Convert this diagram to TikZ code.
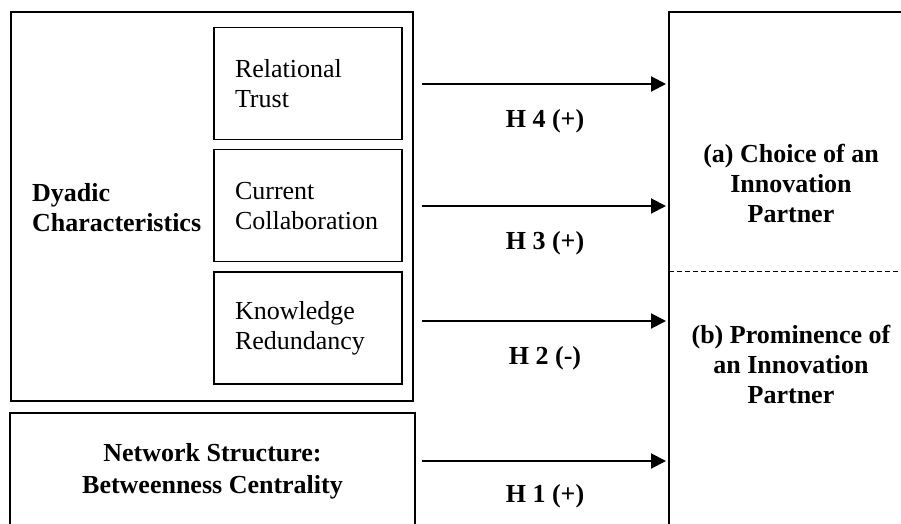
\documentclass[tikz,border=0pt]{standalone}
\usepackage{fontspec}
\setmainfont{Liberation Serif}
\usetikzlibrary{positioning}
\usetikzlibrary{arrows.meta}

\begin{document}
\begin{tikzpicture}[x=1pt, y=-1pt,
    frame/.style = {draw, line width=2pt, inner sep=0pt},
    factor/.style = {draw, line width=1.3pt, minimum width=188pt, minimum height=112pt, text width=146pt, inner xsep=21pt, align=left, font=\fontsize{26}{30}\selectfont},
    heading/.style = {align=center, inner sep=0pt, font=\fontsize{26}{30}\selectfont\bfseries},
    hyp/.style = {inner sep=0pt, font=\fontsize{26}{30}\selectfont\bfseries},
    effect/.style = {line width=2pt, shorten >=2pt, -{Triangle[length=15pt, width=15pt]}},
    ]
    \useasboundingbox (0,0) rectangle (901,524);
    \clip (0,0) rectangle (901,524);

    % left side
    \node[frame, minimum width=402pt, minimum height=389pt] (dyad) at (212,206.5) {};
    \node[factor] (trust) at (308,83.5) {Relational\\Trust};
    \node[factor] (collab) [below = 9pt of trust] {Current\\Collaboration};
    \node[factor] (redund) [below = 9pt of collab] {Knowledge\\Redundancy};
    \node[heading, align=left, anchor=west] (dyadlabel) at (32,208) {Dyadic\\Characteristics};
    \node[frame, heading, font=\fontsize{26}{32}\selectfont\bfseries, minimum width=405pt, minimum height=116pt] (network) at (212.5,471) {Network Structure:\\Betweenness Centrality};

    % right side
    \node[frame, minimum width=251pt, minimum height=528pt] (outcome) at (794.5,276) {};
    \coordinate (split) at (669,271);
    \draw[dashed, line width=0.8pt, dash pattern=on 5pt off 3pt] (split) -- (split -| outcome.east);
    \node[heading] (choice) at (791,183) {(a) Choice of an\\Innovation\\Partner};
    \node[heading] (prominence) at (791,364) {(b) Prominence of\\an Innovation\\Partner};

    % hypotheses
    \coordinate (h4) at (422,84);
    \coordinate (h3) at (422,206);
    \coordinate (h2) at (422,321);
    \coordinate (h1) at (422,461);
    \draw[effect] (h4) -- (h4 -| outcome.west) node[hyp, midway, below=24pt] {H 4 (+)};
    \draw[effect] (h3) -- (h3 -| outcome.west) node[hyp, midway, below=24pt] {H 3 (+)};
    \draw[effect] (h2) -- (h2 -| outcome.west) node[hyp, midway, below=24pt] {H 2 (-)};
    \draw[effect] (h1) -- (h1 -| outcome.west) node[hyp, midway, below=22pt] {H 1 (+)};
\end{tikzpicture}
\end{document}
